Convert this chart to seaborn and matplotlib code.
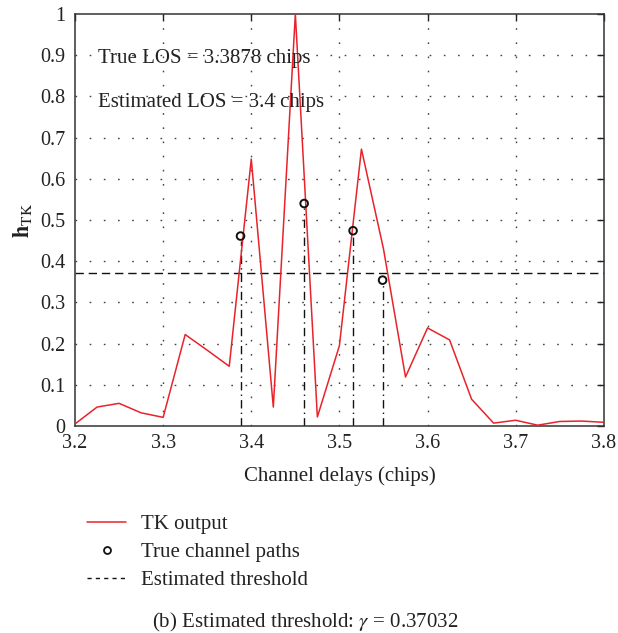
import numpy as np
import pandas as pd
import matplotlib
matplotlib.use("Agg")
import matplotlib.pyplot as plt
from matplotlib.lines import Line2D
import seaborn as sns

# TK output sampled every 0.025 chips
delays = [3.200, 3.225, 3.250, 3.275, 3.300, 3.325, 3.350, 3.375, 3.400,
          3.425, 3.450, 3.475, 3.500, 3.525, 3.550, 3.575, 3.600, 3.625,
          3.650, 3.675, 3.700, 3.725, 3.750, 3.775, 3.800]
tk_output = [0.005, 0.046, 0.055, 0.032, 0.021, 0.222, 0.184, 0.145, 0.648,
             0.046, 1.000, 0.022, 0.195, 0.672, 0.430, 0.119, 0.238, 0.209,
             0.065, 0.007, 0.014, 0.002, 0.011, 0.012, 0.009]

# True channel paths
path_delays = [3.3878, 3.460, 3.5155, 3.549]
path_gains = [0.461, 0.540, 0.474, 0.354]

threshold = 0.37032
x_ticks = [3.2, 3.3, 3.4, 3.5, 3.6, 3.7, 3.8]
y_ticks = [0, 0.1, 0.2, 0.3, 0.4, 0.5, 0.6, 0.7, 0.8, 0.9, 1]
y_tick_labels = ["0", "0.1", "0.2", "0.3", "0.4", "0.5", "0.6", "0.7", "0.8", "0.9", "1"]

sns.set_theme(style="white")
plt.rcParams["font.family"] = ["Liberation Serif", "DejaVu Serif"]
plt.rcParams["mathtext.fontset"] = "stix"

tk_df = pd.DataFrame({"delay": delays, "tk": tk_output})
path_df = pd.DataFrame({"delay": path_delays, "gain": path_gains})

fig = plt.figure(figsize=(6.18, 6.33), dpi=100)
ax = fig.add_axes([0.1214, 0.327, 0.8556, 0.6509])

grid_style = dict(color="#444444", linestyle=(0, (1.2, 9)), linewidth=1.0)
for xv in x_ticks[1:-1]:
    ax.axvline(xv, zorder=0, **grid_style)
for yv in y_ticks[1:-1]:
    ax.axhline(yv, zorder=0, **grid_style)

red = "#e8232b"
sns.lineplot(data=tk_df, x="delay", y="tk", ax=ax, color=red, linewidth=1.1,
             zorder=3, legend=False)

# stems from each true path down to the axis
for d, g in zip(path_delays, path_gains):
    ax.plot([d, d], [0, g - 0.012], color="#111111", linestyle=(0, (6, 3, 1, 3)),
            linewidth=1.0, zorder=2)

sns.scatterplot(data=path_df, x="delay", y="gain", ax=ax, marker="o", s=30,
                facecolor="none", edgecolor="#111111", linewidth=1.4, zorder=4,
                legend=False)

ax.axhline(threshold, color="#111111", linestyle=(0, (6, 3.5)), linewidth=1.0, zorder=2)

ax.set_xlim(3.2, 3.8)
ax.set_ylim(0, 1)
ax.set_xticks(x_ticks)
ax.set_xticklabels([f"{v:.1f}" for v in x_ticks])
ax.set_yticks(y_ticks)
ax.set_yticklabels(y_tick_labels)
ax.tick_params(axis="both", which="both", direction="in", length=5, width=1,
               top=True, right=True, labelsize=14.5, colors="#222222")
ax.tick_params(axis="y", pad=7)
ax.tick_params(axis="x", pad=6)
for s in ax.spines.values():
    s.set_color("#333333")
    s.set_linewidth(1.1)

ax.set_xlabel("Channel delays (chips)", fontsize=15, color="#222222", labelpad=9)
ax.set_ylabel(r"$\mathbf{h}_{\mathrm{TK}}$", fontsize=16, color="#222222", labelpad=4)

ax.text(3.226, 0.891, "True LOS = 3.3878 chips", fontsize=15, color="#222222",
        va="center", ha="left")
ax.text(3.226, 0.786, "Estimated LOS = 3.4 chips", fontsize=15, color="#222222",
        va="center", ha="left")

handles = [
    Line2D([], [], color=red, linewidth=1.1),
    Line2D([], [], color="#111111", marker="o", markersize=5, markerfacecolor="none",
           markeredgewidth=1.3, linestyle="none"),
    Line2D([], [], color="#111111", linestyle=(0, (3, 3)), linewidth=1.0),
]
labels = ["TK output", "True channel paths", "Estimated threshold"]
fig.legend(handles, labels, loc="upper left", bbox_to_anchor=(0.110, 0.217),
           frameon=False, fontsize=15, handlelength=1.9, handletextpad=0.7,
           labelspacing=0.4, labelcolor="#222222")

fig.text(0.246, 0.0095, r"(b) Estimated threshold: $\gamma$ = 0.37032", fontsize=15,
         color="#222222", ha="left", va="baseline")

fig.savefig("out.png", dpi=100)
